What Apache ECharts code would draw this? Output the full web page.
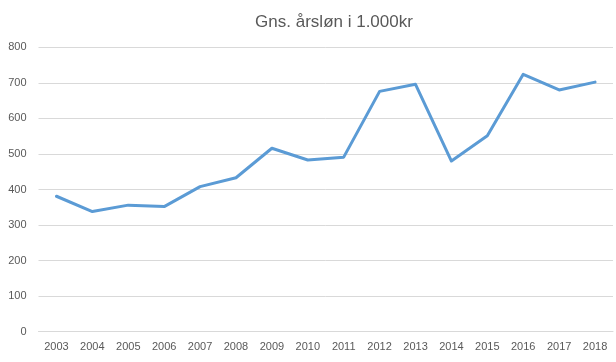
<!DOCTYPE html>
<html>
<head>
<meta charset="utf-8">
<script src="https://cdn.jsdelivr.net/npm/echarts@6/dist/echarts.min.js"></script>
<style>html,body{margin:0;padding:0;background:#fff}#c{width:616px;height:362px}</style>
</head>
<body>
<div id="c"></div>
<script>
const years = ['2003','2004','2005','2006','2007','2008','2009','2010','2011','2012','2013','2014','2015','2016','2017','2018'];
const salary = [381, 338, 356, 352, 408, 433, 516, 483, 491, 676, 696, 480, 551, 724, 680, 702];
const yTicks = [0, 100, 200, 300, 400, 500, 600, 700, 800];

const chart = echarts.init(document.getElementById('c'), null, {renderer: 'canvas'});
chart.setOption({
  animation: false,
  backgroundColor: '#fff',
  title: {
    text: 'Gns. årsløn i 1.000kr',
    left: 329, top: 9, textAlign: 'center',
    textStyle: {fontFamily: 'Liberation Sans', fontSize: 17, fontWeight: 'normal', color: '#595959'}
  },
  grid: {left: 38.5, right: 3, top: 47.3, bottom: 30.3, containLabel: false},
  xAxis: {
    type: 'category',
    data: years,
    boundaryGap: true,
    axisLine: {show: true, lineStyle: {color: '#d9d9d9', width: 1}},
    axisTick: {show: false},
    axisLabel: {color: '#595959', fontFamily: 'Liberation Sans', fontSize: 11, margin: 10, interval: 0}
  },
  yAxis: {
    type: 'value',
    min: yTicks[0], max: yTicks[yTicks.length - 1], interval: 100,
    axisLine: {show: false},
    axisTick: {show: false},
    splitLine: {lineStyle: {color: '#d9d9d9', width: 1}},
    axisLabel: {color: '#595959', fontFamily: 'Liberation Sans', fontSize: 11, margin: 12}
  },
  series: [{
    type: 'line',
    data: salary,
    symbol: 'none',
    lineStyle: {color: '#5b9bd5', width: 3, cap: 'round', join: 'round'},
    itemStyle: {color: '#5b9bd5'}
  }]
});
</script>
</body>
</html>
